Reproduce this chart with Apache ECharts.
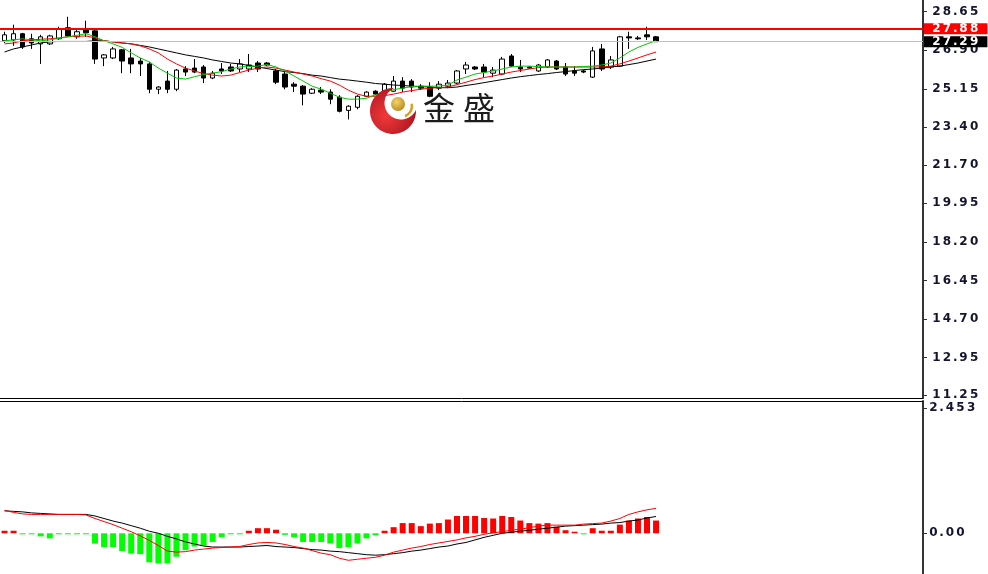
<!DOCTYPE html>
<html><head><meta charset="utf-8">
<script src="https://cdn.jsdelivr.net/npm/echarts@6/dist/echarts.min.js"></script>
<style>html,body{margin:0;padding:0;background:#fff}#c{width:988px;height:574px}</style>
</head><body><div id="c"></div>
<script>
// ---- data ----
const slotCount = 102;
const categories = Array.from({length: slotCount}, (_, i) => 'B' + (i + 1));
// [open, close, low, high]
const candles = [
[27.33,27.60,27.23,27.74],[27.37,27.65,27.10,28.06],[27.65,27.05,26.96,27.69],[27.42,27.23,26.96,27.65],
[27.19,27.51,26.28,27.60],[27.19,27.55,27.14,27.60],[27.42,27.87,27.37,27.97],[27.92,27.55,27.51,28.42],
[27.51,27.74,27.42,27.87],[27.83,27.69,27.51,28.24],[27.78,26.50,26.28,27.87],[26.55,26.69,26.18,26.73],
[26.55,26.96,26.50,27.05],[26.92,26.41,25.86,26.96],[26.55,26.28,25.86,26.96],[26.41,26.28,25.73,26.55],
[26.28,25.13,24.95,26.37],[25.13,25.23,24.91,25.27],[25.50,25.13,24.95,25.96],[25.13,26.00,25.04,26.05],
[26.05,25.91,25.73,26.18],[26.09,25.91,25.86,26.50],[26.14,25.64,25.41,26.23],[25.64,25.86,25.59,25.96],
[26.05,25.96,25.82,26.32],[26.14,25.96,25.91,26.28],[26.05,26.28,25.91,26.50],[26.05,26.23,25.91,26.73],
[26.32,26.05,25.91,26.41],[26.32,26.23,26.18,26.37],[25.96,25.45,25.36,26.05],[25.82,25.23,25.13,25.91],
[25.36,25.27,25.00,25.45],[25.27,24.91,24.40,25.32],[24.95,25.13,24.91,25.18],[25.09,25.00,24.91,25.23],
[25.00,24.68,24.45,25.13],[24.77,24.13,24.08,24.86],[24.17,24.36,23.76,24.40],[24.31,24.81,24.22,24.86],
[24.81,25.00,24.77,25.04],[25.04,24.91,24.86,25.09],[24.91,25.36,24.86,25.41],[25.04,25.50,25.00,25.73],
[25.50,25.18,25.00,25.68],[25.50,25.23,25.00,25.59],[25.27,25.18,25.09,25.36],[25.23,24.81,24.77,25.45],
[25.18,25.36,25.09,25.50],[25.27,25.41,25.18,25.55],[25.41,25.96,25.36,26.00],[26.05,26.23,25.82,26.37],
[26.14,26.05,26.00,26.18],[26.14,25.91,25.68,26.28],[25.86,26.00,25.68,26.14],[25.82,26.50,25.77,26.60],
[26.64,26.18,26.14,26.73],[26.14,26.05,25.91,26.46],[26.14,26.09,26.05,26.18],[25.96,26.23,25.91,26.28],
[26.14,26.46,26.09,26.50],[26.41,26.05,26.00,26.46],[26.14,25.82,25.73,26.32],[25.96,25.86,25.73,26.18],
[25.96,25.91,25.86,26.00],[25.68,26.87,25.64,27.05],[26.96,26.05,25.96,27.19],[26.14,26.46,26.05,26.64],
[26.18,27.51,26.14,27.55],[27.51,27.46,26.96,27.74],[27.46,27.42,27.37,27.55],[27.60,27.51,27.37,27.97],
[27.51,27.29,27.28,27.55]
];
const maFast = [27.33,27.37,27.42,27.37,27.33,27.37,27.44,27.51,27.58,27.65,27.51,27.33,27.19,27.03,26.78,26.55,
26.37,26.09,25.86,25.64,25.59,25.70,25.80,25.86,25.93,26.05,26.14,26.16,26.18,26.25,26.14,25.96,25.73,25.50,25.27,
25.13,24.95,24.77,24.68,24.68,24.72,24.88,25.00,25.11,25.18,25.25,25.27,25.27,25.27,25.32,25.55,25.68,25.82,25.89,
25.96,26.05,26.14,26.18,26.18,26.16,26.14,26.14,26.14,26.14,26.16,26.18,26.23,26.32,26.55,26.82,27.03,27.19,27.33];
const maMid = [27.19,27.23,27.33,27.37,27.40,27.42,27.46,27.51,27.53,27.55,27.46,27.33,27.28,27.23,27.19,27.10,
26.96,26.78,26.50,26.28,26.09,25.96,25.84,25.77,25.73,25.77,25.89,26.00,26.09,26.14,26.09,26.00,25.91,25.82,25.73,
25.61,25.50,25.32,25.09,24.91,24.81,24.81,24.84,24.91,25.00,25.07,25.13,25.18,25.20,25.23,25.34,25.45,25.57,25.66,
25.73,25.82,25.91,25.98,26.05,26.11,26.14,26.14,26.14,26.14,26.14,26.14,26.14,26.18,26.28,26.41,26.55,26.69,26.82];
const maSlow = [26.82,26.96,27.05,27.14,27.23,27.28,27.30,27.30,27.30,27.30,27.33,27.33,27.28,27.23,27.19,27.12,
27.05,26.96,26.87,26.78,26.69,26.62,26.55,26.46,26.39,26.32,26.28,26.21,26.14,26.07,26.00,25.93,25.89,25.84,25.77,
25.73,25.66,25.59,25.55,25.50,25.45,25.39,25.36,25.32,25.30,25.27,25.25,25.23,25.20,25.20,25.23,25.30,25.36,25.43,
25.50,25.57,25.64,25.70,25.75,25.80,25.84,25.89,25.93,25.98,26.02,26.05,26.09,26.14,26.18,26.25,26.32,26.41,26.50];
const macdHist = [0.05,0.05,-0.02,-0.02,-0.06,-0.10,-0.02,-0.02,-0.02,-0.02,-0.20,-0.27,-0.27,-0.35,-0.40,-0.41,
-0.57,-0.59,-0.59,-0.46,-0.33,-0.26,-0.24,-0.17,-0.08,-0.02,-0.02,0.05,0.10,0.10,0.07,-0.03,-0.08,-0.17,-0.17,-0.17,
-0.20,-0.29,-0.27,-0.20,-0.10,-0.04,0.05,0.12,0.20,0.20,0.14,0.19,0.20,0.27,0.34,0.34,0.34,0.30,0.29,0.34,0.32,0.25,
0.20,0.19,0.20,0.13,0.06,0.03,-0.02,0.10,0.05,0.05,0.17,0.25,0.29,0.32,0.25];
const macdRed = [0.45,0.41,0.38,0.37,0.37,0.37,0.37,0.37,0.37,0.36,0.29,0.23,0.17,0.10,0.03,-0.05,-0.14,-0.24,-0.35,
-0.37,-0.36,-0.33,-0.31,-0.29,-0.28,-0.27,-0.26,-0.22,-0.19,-0.18,-0.19,-0.22,-0.26,-0.29,-0.34,-0.39,-0.42,-0.49,
-0.53,-0.51,-0.49,-0.47,-0.43,-0.37,-0.33,-0.29,-0.26,-0.22,-0.19,-0.16,-0.13,-0.09,-0.06,-0.02,0.01,0.03,0.06,0.08,
0.11,0.14,0.16,0.16,0.16,0.16,0.18,0.19,0.20,0.24,0.29,0.37,0.42,0.46,0.49];
const macdBlack = [0.44,0.43,0.42,0.40,0.39,0.38,0.37,0.37,0.37,0.37,0.34,0.29,0.24,0.20,0.15,0.10,0.04,0.00,-0.06,
-0.11,-0.17,-0.21,-0.25,-0.27,-0.27,-0.27,-0.27,-0.26,-0.25,-0.24,-0.26,-0.27,-0.28,-0.30,-0.32,-0.33,-0.35,-0.36,
-0.38,-0.40,-0.42,-0.43,-0.42,-0.40,-0.38,-0.35,-0.33,-0.30,-0.27,-0.25,-0.21,-0.18,-0.13,-0.08,-0.04,0.00,0.02,0.04,
0.06,0.08,0.10,0.12,0.14,0.15,0.16,0.17,0.18,0.20,0.21,0.24,0.26,0.30,0.33];
const priceTicks = [28.65, 26.90, 25.15, 23.40, 21.70, 19.95, 18.20, 16.45, 14.70, 12.95, 11.25];
const macdTicks = [2.453, 0];
const askPrice = 27.88;
const bidPrice = 27.29;

// ---- styling helpers ----
const FONT = 'DejaVu Sans';
function spread(s) {
  return s.split('').map(c => c === '.' ? '{p|.}' : '{d|' + c + '}').join('');
}
function richFor(color) {
  const base = {fontFamily: FONT, fontWeight: 'bold', fontSize: 12, color: color, align: 'center', lineHeight: 11};
  return {d: Object.assign({width: 10.6}, base), p: Object.assign({width: 6}, base)};
}
function radial(x, y, r, c0, c1) {
  return {type: 'radial', x: x, y: y, r: r, colorStops: [{offset: 0, color: c0}, {offset: 1, color: c1}]};
}
// watermark crescent outline (decoration, not data)
function crescentPoints() {
  const pts = [];
  const c1 = [393, 111], r1 = 23, c2 = [401, 103], r2 = 16.5;
  const t1 = [394.0, 88.0], t2 = [416.0, 110.0];
  let start = Math.atan2(t1[1] - c1[1], t1[0] - c1[0]);
  let end = Math.atan2(t2[1] - c1[1], t2[0] - c1[0]);
  while (end > start) end -= Math.PI * 2;
  for (let k = 0; k <= 48; k++) {
    const a = start + (end - start) * k / 48;
    pts.push([c1[0] + r1 * Math.cos(a), c1[1] + r1 * Math.sin(a)]);
  }
  const b1 = Math.atan2(t2[1] - c2[1], t2[0] - c2[0]);
  let b2 = Math.atan2(t1[1] - c2[1], t1[0] - c2[0]);
  while (b2 < b1) b2 += Math.PI * 2;
  for (let k = 0; k <= 48; k++) {
    const a = b1 + (b2 - b1) * k / 48;
    pts.push([c2[0] + r2 * Math.cos(a), c2[1] + r2 * Math.sin(a)]);
  }
  return pts;
}
const axisColor = '#14142e';

const chart = echarts.init(document.getElementById('c'), null, {renderer: 'canvas'});
const gridLeft = -5.05, gridRight = 923;
chart.setOption({
  animation: false,
  backgroundColor: '#ffffff',
  grid: [
    {left: gridLeft, width: gridRight - gridLeft, top: 0, height: 398},
    {left: gridLeft, width: gridRight - gridLeft, top: 401, height: 173}
  ],
  xAxis: [
    {type: 'category', data: categories, gridIndex: 0, boundaryGap: true,
     axisLine: {show: true, onZero: false, lineStyle: {color: '#000', width: 1}}, axisTick: {show: false}, axisLabel: {show: false}, splitLine: {show: false}},
    {type: 'category', data: categories, gridIndex: 1, position: 'top', boundaryGap: true,
     axisLine: {show: true, onZero: false, lineStyle: {color: '#000', width: 1}}, axisTick: {show: false}, axisLabel: {show: false}, splitLine: {show: false}}
  ],
  yAxis: [
    {type: 'value', gridIndex: 0, position: 'right', min: 11.115, max: 29.181,
     splitLine: {show: false},
     axisLine: {show: true, lineStyle: {color: '#333', width: 2}},
     axisTick: {show: true, length: 4, lineStyle: {color: '#333'}, customValues: priceTicks},
     axisLabel: {show: true, margin: 8, customValues: priceTicks,
       formatter: v => spread(Number(v).toFixed(2)), rich: richFor(axisColor)}},
    {type: 'value', gridIndex: 1, position: 'right', min: -0.799, max: 2.596,
     splitLine: {show: false},
     axisLine: {show: true, lineStyle: {color: '#333', width: 2}},
     axisTick: {show: true, length: 4, lineStyle: {color: '#333'}, customValues: macdTicks},
     axisLabel: {show: true, margin: 5, customValues: macdTicks,
       formatter: v => spread(Number(v) === 0 ? '0.00' : Number(v).toFixed(3)), rich: richFor(axisColor)}}
  ],
  series: [
    {type: 'candlestick', name: 'price', xAxisIndex: 0, yAxisIndex: 0, data: candles, barWidth: 5,
     itemStyle: {color: '#ffffff', color0: '#000000', borderColor: '#000000', borderColor0: '#000000', borderWidth: 1},
     markLine: {silent: true, symbol: ['none', 'none'], animation: false,
       data: [
         {yAxis: askPrice, lineStyle: {color: '#ff0000', width: 2, type: 'solid'},
          label: {show: true, position: 'end', distance: 1, formatter: () => spread(askPrice.toFixed(2)),
                  backgroundColor: '#ff0000', padding: [0, 8, 0, 7], rich: richFor('#ffffff')}},
         {yAxis: bidPrice, lineStyle: {color: '#c0c0c0', width: 1, type: 'solid'},
          label: {show: true, position: 'end', distance: 1, formatter: () => spread(bidPrice.toFixed(2)),
                  backgroundColor: '#000000', padding: [0, 8, 0, 7], rich: richFor('#ffffff')}}
       ]}},
    {type: 'line', name: 'MA slow', xAxisIndex: 0, yAxisIndex: 0, data: maSlow, symbol: 'none',
     lineStyle: {color: '#000000', width: 1}, z: 3},
    {type: 'line', name: 'MA mid', xAxisIndex: 0, yAxisIndex: 0, data: maMid, symbol: 'none',
     lineStyle: {color: '#ff0000', width: 1}, z: 3},
    {type: 'line', name: 'MA fast', xAxisIndex: 0, yAxisIndex: 0, data: maFast, symbol: 'none',
     lineStyle: {color: '#00c800', width: 1}, z: 3},
    {type: 'bar', name: 'hist', xAxisIndex: 1, yAxisIndex: 1, data: macdHist, barWidth: 6,
     itemStyle: {color: p => p.value >= 0 ? '#ff0000' : '#00ff00'}},
    {type: 'line', name: 'MACD black', xAxisIndex: 1, yAxisIndex: 1, data: macdBlack, symbol: 'none',
     lineStyle: {color: '#000000', width: 1}, z: 3},
    {type: 'line', name: 'MACD red', xAxisIndex: 1, yAxisIndex: 1, data: macdRed, symbol: 'none',
     lineStyle: {color: '#ff0000', width: 1}, z: 3}
  ],
  graphic: [
    {type: 'polygon', z: 100, shape: {points: crescentPoints()},
     style: {fill: radial(0.35, 0.6, 0.75, '#ef3a3a', '#a80f1c')}},
    {type: 'circle', z: 101, shape: {cx: 398, cy: 104, r: 7},
     style: {fill: radial(0.4, 0.35, 0.7, '#f3d36a', '#b88a1c')}},
    {type: 'arc', z: 101, shape: {cx: 401, cy: 106, r: 11, startAngle: -0.2, endAngle: 1.2},
     style: {stroke: '#d1a22e', lineWidth: 2.5, fill: null}},
    {type: 'text', z: 102, x: 423, y: 92,
     style: {text: '金', font: '32px "Noto Sans CJK SC"', fill: '#1c1c1c'}},
    {type: 'text', z: 102, x: 463, y: 92,
     style: {text: '盛', font: '32px "Noto Sans CJK SC"', fill: '#1c1c1c'}}
  ]
});
</script></body></html>
